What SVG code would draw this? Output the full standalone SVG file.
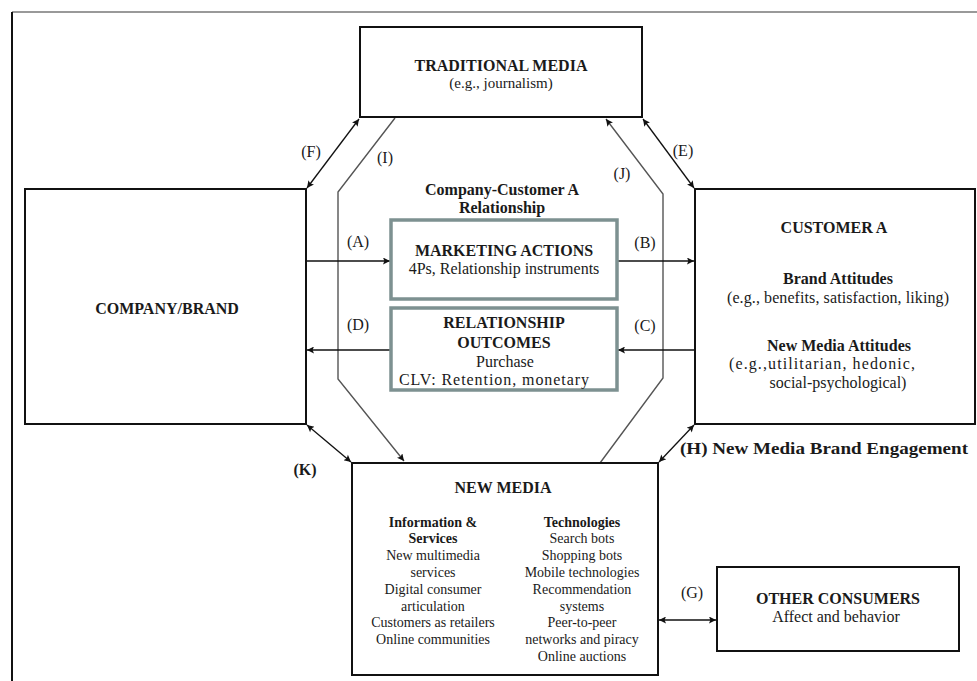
<svg xmlns="http://www.w3.org/2000/svg" width="977" height="681" viewBox="0 0 977 681">
<defs>
<marker id="ah" viewBox="0 0 10 10" refX="10" refY="5" markerWidth="9" markerHeight="7" markerUnits="userSpaceOnUse" orient="auto-start-reverse"><path d="M0,0 L10,5 L0,10 L2,5 z" fill="#111"/></marker>
<style>
text{font-family:"Liberation Serif","Times New Roman",serif;fill:#1a1a1a;text-anchor:middle}
.b{font-weight:bold}
.t{font-size:16px}
.s{font-size:14px}
.h{font-size:16px;font-weight:bold}
.lbl{font-size:16px}
.box{fill:#fff;stroke:#111;stroke-width:2}
.gbox{fill:#fff;stroke:#7d9191;stroke-width:3.5}
.ln{fill:none;stroke:#111;stroke-width:1.3}
.oct{fill:none;stroke:#555;stroke-width:1.4}
</style>
</defs>
<rect width="977" height="681" fill="#fff"/>
<g id="frame">
<line x1="12" y1="12" x2="977" y2="12" stroke="#777" stroke-width="1.5"/>
<line x1="12" y1="12" x2="12" y2="681" stroke="#111" stroke-width="2"/>
</g>
<g id="connectors">
<polyline class="oct" points="395,118 338,192 338,379 404,461" marker-end="url(#ah)"/>
<polyline class="oct" points="600,463 663,378 663,194 606,119" marker-end="url(#ah)"/>
<line class="ln" x1="359" y1="119" x2="307" y2="188" marker-start="url(#ah)" marker-end="url(#ah)"/>
<line class="ln" x1="643" y1="119" x2="694" y2="188" marker-start="url(#ah)" marker-end="url(#ah)"/>
<line class="ln" x1="307" y1="425" x2="351" y2="462" marker-start="url(#ah)" marker-end="url(#ah)"/>
<line class="ln" x1="694" y1="425" x2="659" y2="462" marker-start="url(#ah)" marker-end="url(#ah)"/>
<line class="ln" x1="659" y1="620" x2="716" y2="620" marker-start="url(#ah)" marker-end="url(#ah)"/>
<line class="ln" x1="307" y1="261" x2="390" y2="261" marker-end="url(#ah)"/>
<line class="ln" x1="618" y1="261" x2="694" y2="261" marker-end="url(#ah)"/>
<line class="ln" x1="694" y1="350" x2="618" y2="350" marker-end="url(#ah)"/>
<line class="ln" x1="390" y1="350" x2="307" y2="350" marker-end="url(#ah)"/>
<text class="lbl" x="311" y="157">(F)</text>
<text class="lbl" x="385" y="163">(I)</text>
<text class="lbl" x="622" y="179">(J)</text>
<text class="lbl" x="683" y="156">(E)</text>
<text class="lbl" x="358" y="247">(A)</text>
<text class="lbl" x="358" y="330">(D)</text>
<text class="lbl" x="645" y="248">(B)</text>
<text class="lbl" x="645" y="331">(C)</text>
<text class="lbl b" x="305" y="475">(K)</text>
<text class="lbl" x="692" y="598">(G)</text>
<text class="b" x="680" y="454" style="font-size:16px;text-anchor:start" textLength="288" lengthAdjust="spacingAndGlyphs">(H) New Media Brand Engagement</text>
</g>
<g id="traditional-media">
<rect class="box" x="360" y="27" width="282" height="90"/>
<text class="h" x="501" y="71">TRADITIONAL MEDIA</text>
<text class="s" x="501" y="88" style="font-size:15px">(e.g., journalism)</text>
</g>
<g id="company-brand">
<rect class="box" x="25" y="189" width="281" height="235"/>
<text class="h" x="167" y="314">COMPANY/BRAND</text>
</g>
<g id="customer-a">
<rect class="box" x="695" y="189" width="280" height="235"/>
<text class="h" x="834" y="233">CUSTOMER A</text>
<text class="t b" x="838" y="284">Brand Attitudes</text>
<text class="t" x="838" y="303" textLength="222" lengthAdjust="spacing">(e.g., benefits, satisfaction, liking)</text>
<text class="t" x="839" y="351" style="font-weight:bold">New Media Attitudes</text>
<text class="t" x="822" y="369" textLength="186" lengthAdjust="spacing">(e.g.,utilitarian, hedonic,</text>
<text class="t" x="838" y="388">social-psychological)</text>
</g>
<g id="relationship">
<text class="t b" x="502" y="195">Company-Customer A</text>
<text class="t b" x="502" y="213">Relationship</text>
</g>
<g id="marketing-actions">
<rect class="gbox" x="391" y="220" width="226" height="79"/>
<text class="h" x="504" y="256">MARKETING ACTIONS</text>
<text class="t" x="504" y="274">4Ps, Relationship instruments</text>
</g>
<g id="relationship-outcomes">
<rect class="gbox" x="391" y="308" width="226" height="82"/>
<text class="h" x="504" y="328">RELATIONSHIP</text>
<text class="h" x="504" y="348">OUTCOMES</text>
<text class="t" x="505" y="367">Purchase</text>
<text class="t" x="494" y="385" textLength="190" lengthAdjust="spacing">CLV: Retention, monetary</text>
</g>
<g id="new-media">
<rect class="box" x="352" y="463" width="306" height="212"/>
<text class="h" x="503" y="493">NEW MEDIA</text>
<text class="s b" x="433" y="527">Information &amp;</text>
<text class="s b" x="433" y="543">Services</text>
<text class="s" x="433" y="560">New multimedia</text>
<text class="s" x="433" y="577">services</text>
<text class="s" x="433" y="594">Digital consumer</text>
<text class="s" x="433" y="611">articulation</text>
<text class="s" x="433" y="627">Customers as retailers</text>
<text class="s" x="433" y="644">Online communities</text>
<text class="s b" x="582" y="527">Technologies</text>
<text class="s" x="582" y="543">Search bots</text>
<text class="s" x="582" y="560">Shopping bots</text>
<text class="s" x="582" y="577">Mobile technologies</text>
<text class="s" x="582" y="594">Recommendation</text>
<text class="s" x="582" y="611">systems</text>
<text class="s" x="582" y="627">Peer-to-peer</text>
<text class="s" x="582" y="644">networks and piracy</text>
<text class="s" x="582" y="661">Online auctions</text>
</g>
<g id="other-consumers">
<rect class="box" x="717" y="567" width="242" height="84"/>
<text class="h" x="838" y="604">OTHER CONSUMERS</text>
<text class="t" x="836" y="622">Affect and behavior</text>
</g>
</svg>
